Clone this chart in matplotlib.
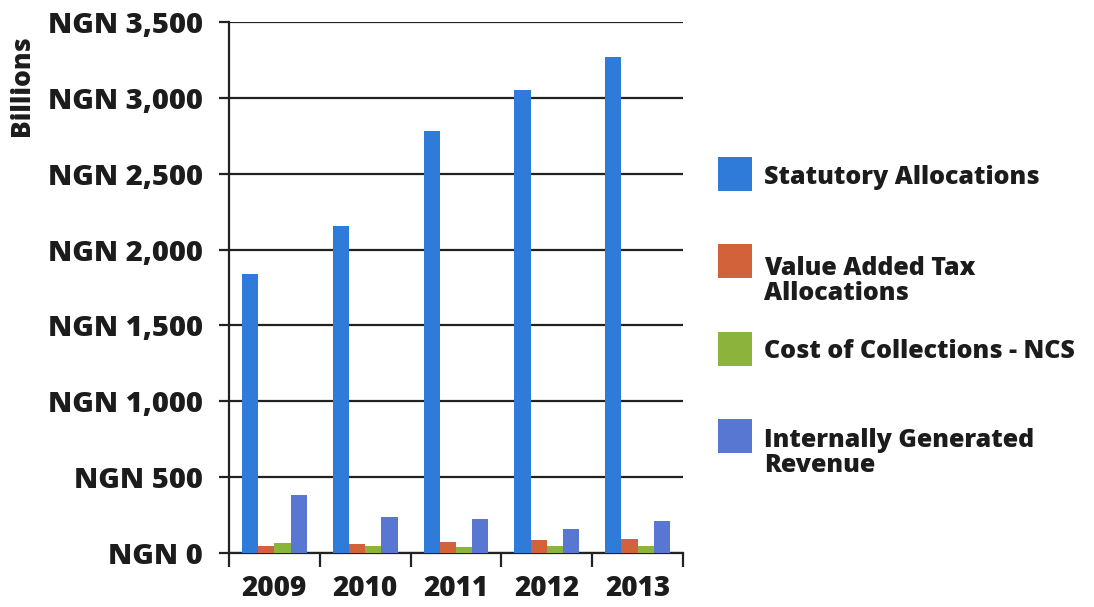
import matplotlib
matplotlib.use('Agg')
import matplotlib.pyplot as plt
from matplotlib.patches import Rectangle
from matplotlib.ticker import FuncFormatter
import numpy as np

plt.rcParams['font.family'] = ['Open Sans', 'DejaVu Sans']
plt.rcParams['font.weight'] = 800

# data (NGN billions)
years = ['2009', '2010', '2011', '2012', '2013']
statutory = [1840, 2155, 2780, 3050, 3270]
vat = [48, 62, 72, 84, 95]
ncs = [66, 48, 38, 46, 46]
igr = [383, 235, 225, 160, 212]

series_names = ['Statutory Allocations', 'Value Added Tax\nAllocations',
                'Cost of Collections - NCS', 'Internally Generated\nRevenue']
colors = ['#2f7bd9', '#d2623a', '#8cb43c', '#5877d2']
text_color = '#1c1c1c'

fig = plt.figure(figsize=(10.94, 6.07), dpi=100)
fig.patch.set_facecolor('white')
ax = fig.add_axes([229 / 1094, 1 - 553 / 607, 454 / 1094, 531 / 607])

x = np.arange(len(years))
w = 0.178
for i, (vals, c) in enumerate(zip([statutory, vat, ncs, igr], colors)):
    ax.bar(x + (i - 1.5) * w, vals, width=w, color=c, zorder=3)

ax.set_xlim(-0.5, len(years) - 0.5)
ax.set_ylim(0, 3500)
ax.set_yticks(np.arange(0, 3501, 500))
ax.yaxis.set_major_formatter(FuncFormatter(lambda v, p: 'NGN {:,.0f}'.format(v)))
ax.grid(axis='y', color='#222222', linewidth=1.6, zorder=0)

ax.set_xticks(x)
ax.set_xticklabels(years)
ax.set_xticks(np.arange(-0.5, len(years)), minor=True)
ax.tick_params(axis='x', which='major', length=0, pad=15, labelsize=20, colors=text_color)
ax.tick_params(axis='x', which='minor', length=10, width=1.6, color='#222222')
ax.tick_params(axis='y', length=7, width=1.6, color='#222222', pad=12,
               labelsize=21, labelcolor=text_color)

for s in ['top', 'right']:
    ax.spines[s].set_visible(False)
for s in ['left', 'bottom']:
    ax.spines[s].set_color('#222222')
    ax.spines[s].set_linewidth(1.6)

fig.text(22 / 1094, 1 - 86 / 607, 'Billions', rotation=90, ha='center', va='center',
         fontsize=19, fontweight=800, color=text_color)

# legend on the right
patch_y = [174, 261, 349, 436]
text_y = [177, 281, 351, 453]
for py, ty, name, c in zip(patch_y, text_y, series_names, colors):
    fig.patches.append(Rectangle((718 / 1094, 1 - (py + 17) / 607), 34 / 1094, 34 / 607,
                                 transform=fig.transFigure, facecolor=c, edgecolor='none'))
    fig.text(764 / 1094, 1 - ty / 607, name, ha='left', va='center', fontsize=18,
             fontweight=800, color=text_color, linespacing=1.05)

plt.savefig('out.png', dpi=100, facecolor='white')
